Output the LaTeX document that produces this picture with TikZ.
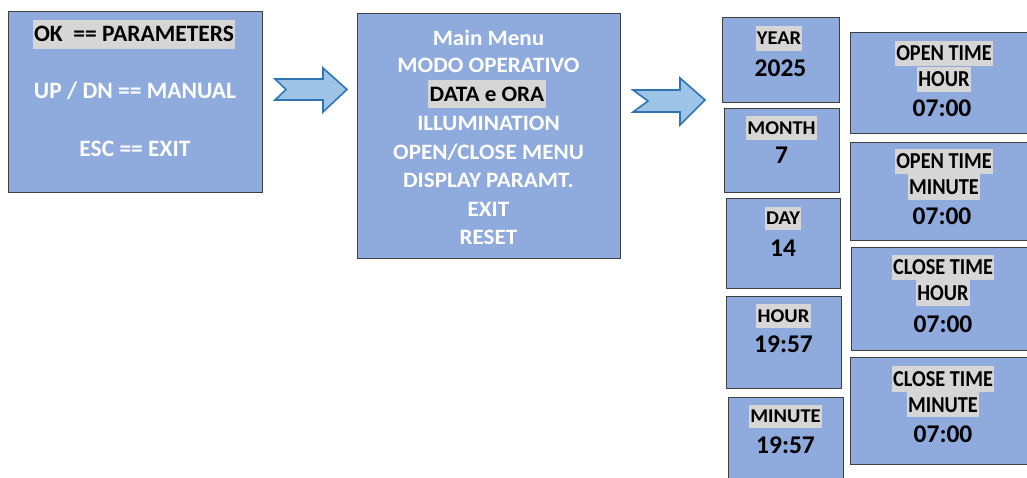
\documentclass[tikz,border=0pt]{standalone}
\usepackage{fontspec}
\setmainfont{Carlito}
\newfontfamily\wideFont[FakeStretch=1.05]{Carlito}
\newfontfamily\narrowFont[FakeStretch=0.89]{Carlito}
\definecolor{boxfill}{HTML}{8FAADC}
\definecolor{boxline}{HTML}{3F3F3F}
\definecolor{hlgray}{HTML}{D6D6D6}
\definecolor{arrowfill}{HTML}{9DC3E6}
\definecolor{arrowline}{HTML}{2E75B6}
\begin{document}
\begin{tikzpicture}[x=1pt,y=-1pt,
  box/.style={draw=boxline, fill=boxfill, line width=1.3pt, inner sep=0pt, anchor=north west},
  tA/.style={font=\bfseries\fontsize{23.5}{27}\selectfont, inner xsep=1.5pt, inner ysep=0pt, text height=15pt, text depth=0pt},
  tB/.style={font=\wideFont\bfseries\fontsize{22}{26}\selectfont, inner xsep=1.5pt, inner ysep=0pt, text height=14.2pt, text depth=0pt},
  tC/.style={font=\wideFont\bfseries\fontsize{19.5}{23}\selectfont, inner xsep=1.2pt, inner ysep=0pt, text height=12.5pt, text depth=0pt},
  tD/.style={font=\bfseries\fontsize{25.5}{29}\selectfont, inner sep=0pt, text height=16.3pt, text depth=0pt},
  tE/.style={font=\bfseries\fontsize{25.5}{30}\selectfont, inner sep=0pt, text height=16.5pt, text depth=0pt},
  tF/.style={font=\narrowFont\bfseries\fontsize{22.8}{27}\selectfont, inner xsep=1.5pt, inner ysep=0pt, text height=14.7pt, text depth=0pt},
  wt/.style={text=white},
  hl/.style={fill=hlgray, minimum height=#1},
  arrowshape/.style={fill=arrowfill, draw=arrowline, line width=1.6pt, line join=miter}
]
\useasboundingbox (0,0) rectangle (1027,477);
\clip (0,0) rectangle (1027,477);

% ---- box 1
\node[box, minimum width=254pt, minimum height=181pt] (b1) at (8,11) {};
\node[tA, hl=29pt] (b1l1) at (134,34) {OK\ \ == PARAMETERS};
\node[tA, wt] (b1l2) at (135,91) {UP / DN == MANUAL};
\node[tA, wt] (b1l3) at (135,149) {ESC == EXIT};

% ---- arrow 1
\draw[arrowshape] (275,79) -- (323,79) -- (323,68) -- (347,89.5) -- (323,112) -- (323,100) -- (275,100) -- (286,89.5) -- cycle;

% ---- box 2
\node[box, minimum width=263pt, minimum height=245pt] (b2) at (357,13) {};
\node[tB, wt] (m1) at (488.5,38.3) {Main Menu};
\node[tB, wt] (m2) at (488.5,65.5) {MODO OPERATIVO};
\node[tB, hl=28pt] (m3) at (487,94) {DATA e ORA};
\node[tB, wt] (m4) at (488.5,123.7) {ILLUMINATION};
\node[tB, wt] (m5) at (488.5,152.5) {OPEN/CLOSE MENU};
\node[tB, wt] (m6) at (488.5,180.8) {DISPLAY PARAMT.};
\node[tB, wt] (m7) at (488.5,209.2) {EXIT};
\node[tB, wt] (m8) at (488.5,237.5) {RESET};

% ---- arrow 2
\draw[arrowshape] (633,90) -- (680,90) -- (680,78) -- (705,100) -- (680,125) -- (680,112) -- (633,112) -- (648,101) -- cycle;

% ---- left column of small boxes
\node[box, minimum width=117pt, minimum height=85pt] (year) at (722,17) {};
\node[tC, hl=24.5pt] (yearl) at (779,38.3) {YEAR};
\node[tD] (yearv) at (780.5,68) {2025};

\node[box, minimum width=115pt, minimum height=84pt] (month) at (724,108) {};
\node[tC, hl=23.5pt] (monthl) at (781.5,128) {MONTH};
\node[tD] (monthv) at (781.5,155) {7};

\node[box, minimum width=114pt, minimum height=90pt] (day) at (726,198) {};
\node[tC, hl=23.5pt] (dayl) at (783,218.3) {DAY};
\node[tD] (dayv) at (783,248) {14};

\node[box, minimum width=115pt, minimum height=92pt] (hour) at (726,296) {};
\node[tC, hl=23.5pt] (hourl) at (783.5,315.8) {HOUR};
\node[tD] (hourv) at (783.5,344) {19:57};

\node[box, minimum width=115pt, minimum height=100pt] (minute) at (728,397) {};
\node[tC, hl=23.5pt] (minutel) at (785.5,416.7) {MINUTE};
\node[tD] (minutev) at (785.5,445) {19:57};

% ---- right column of boxes
\node[box, minimum width=200pt, minimum height=101pt] (oth) at (850,32) {};
\node[tF, hl=25.5pt] (oth1) at (944,53.5) {OPEN TIME};
\node[tF, hl=25.5pt] (oth2) at (944,79.3) {HOUR};
\node[tE] (oth3) at (942,108) {07:00};

\node[box, minimum width=200pt, minimum height=98pt] (otm) at (850,142) {};
\node[tF, hl=25.5pt] (otm1) at (944,161.5) {OPEN TIME};
\node[tF, hl=25.5pt] (otm2) at (944,187) {MINUTE};
\node[tE] (otm3) at (942,216.7) {07:00};

\node[box, minimum width=200pt, minimum height=103pt] (cth) at (851,247) {};
\node[tF, hl=25.5pt] (cth1) at (943,267.5) {CLOSE TIME};
\node[tF, hl=25.5pt] (cth2) at (943,293) {HOUR};
\node[tE] (cth3) at (943,324) {07:00};

\node[box, minimum width=200pt, minimum height=107pt] (ctm) at (850,357) {};
\node[tF, hl=25.5pt] (ctm1) at (943,379) {CLOSE TIME};
\node[tF, hl=25.5pt] (ctm2) at (943,404.7) {MINUTE};
\node[tE] (ctm3) at (943,434.3) {07:00};
\end{tikzpicture}
\end{document}
